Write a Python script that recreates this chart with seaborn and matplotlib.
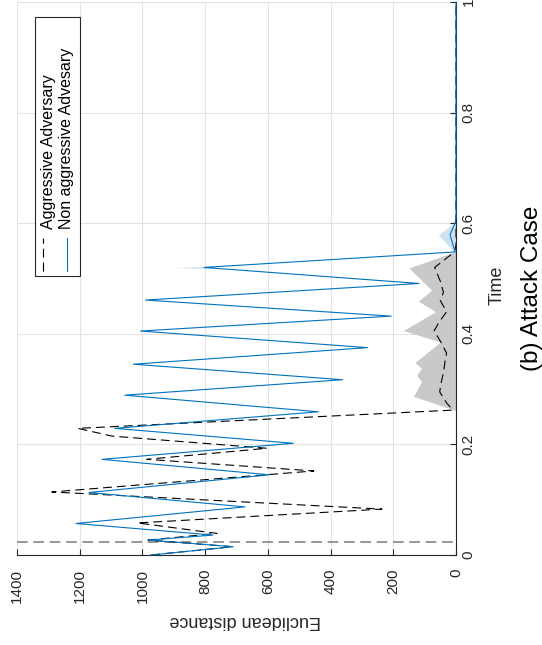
import numpy as np
import pandas as pd
import matplotlib
matplotlib.use("Agg")
import matplotlib.pyplot as plt
import seaborn as sns
from matplotlib.lines import Line2D
from matplotlib.patches import Rectangle

# ---------------- data ----------------
time_ticks = [0, 0.2, 0.4, 0.6, 0.8, 1.0]
time_tick_labels = ["0", "0.2", "0.4", "0.6", "0.8", "1"]
dist_ticks = [0, 200, 400, 600, 800, 1000, 1200, 1400]
dist_tick_labels = ["0", "200", "400", "600", "800", "1000", "1200", "1400"]

# Non aggressive adversary (blue, solid)
blue_t = [0.000, 0.015, 0.027, 0.036, 0.057, 0.087, 0.113, 0.145, 0.173, 0.202,
          0.229, 0.259, 0.289, 0.317, 0.345, 0.375, 0.405, 0.432, 0.461, 0.491,
          0.520, 0.548, 0.579, 0.600, 0.610, 1.000]
blue_d = [973, 711, 982, 775, 1212, 673, 1170, 595, 1129, 519,
          1088, 439, 1056, 362, 1029, 282, 1006, 207, 990, 118,
          804, 3, 19, 3, 0, 0]

# Aggressive adversary (black, dashed)
black_t = [0.000, 0.015, 0.027, 0.039, 0.058, 0.083, 0.114, 0.152, 0.173, 0.193,
           0.215, 0.229, 0.262, 0.275, 0.295, 0.310, 0.330, 0.350, 0.365, 0.385,
           0.405, 0.420, 0.440, 0.460, 0.475, 0.495, 0.520, 0.548, 0.560, 1.000]
black_d = [973, 711, 982, 762, 1016, 236, 1289, 453, 986, 603,
           1097, 1206, 10, 30, 52, 48, 40, 35, 30, 48,
           70, 55, 30, 50, 40, 50, 68, 5, 0, 0]

# spread band of the aggressive adversary (gray)
gray_t = [0.262, 0.287, 0.313, 0.325, 0.338, 0.348, 0.385, 0.406, 0.440, 0.459,
          0.479, 0.519, 0.548]
gray_d = [5, 136, 110, 125, 110, 131, 50, 168, 65, 120,
          78, 150, 5]

# spread band of the non aggressive adversary (light blue)
blue_band_t = [0.546, 0.579, 0.602]
blue_band_d = [3, 56, 3]
blue_peak_t = [0.5175, 0.5200, 0.5225]
blue_peak_lo = [760, 804, 760]
blue_peak_hi = [760, 907, 760]

attack_start = 0.024

series = ["Aggressive Adversary", "Non aggressive Advesary"]
caption = "(b) Attack Case"

# ---------------- style ----------------
sns.set_theme(style="white")
plt.rcParams["font.family"] = ["Liberation Sans", "DejaVu Sans"]

W, H = 542, 645
fig = plt.figure(figsize=(W / 100, H / 100), dpi=100)
L, R, T, B = 17, 456, 2, 555
ax = fig.add_axes([L / W, 1 - B / H, (R - L) / W, (B - T) / H])

blue = "#0072BD"

# bands
ax.fill_betweenx(gray_t, 0, gray_d, color="#c9c9c9", lw=0, zorder=1.5)
ax.fill_betweenx(blue_band_t, 0, blue_band_d, color=blue, alpha=0.2, lw=0, zorder=1.5)
ax.fill_betweenx(blue_peak_t, blue_peak_lo, blue_peak_hi, color=blue, alpha=0.2, lw=0, zorder=1.5)

# attack start marker
ax.axhline(attack_start, color="#7a7a7a", lw=1.1, ls=(0, (7, 3.7)), zorder=1.8)

df_black = pd.DataFrame({"d": black_d, "t": black_t})
df_blue = pd.DataFrame({"d": blue_d, "t": blue_t})
sns.lineplot(data=df_black, x="d", y="t", sort=False, estimator=None, orient="y",
             color="black", lw=0.8, linestyle=(0, (8, 4.5)), ax=ax, zorder=2.6)
sns.lineplot(data=df_blue, x="d", y="t", sort=False, estimator=None, orient="y",
             color=blue, lw=0.8, ax=ax, zorder=2.7, clip_on=False)

ax.set_xlim(1400, 0)
ax.set_ylim(0, 1)
ax.set_xticks(dist_ticks)
ax.set_xticklabels(dist_tick_labels)
ax.yaxis.tick_right()
ax.set_yticks(time_ticks)
ax.set_yticklabels(time_tick_labels)

ax.grid(True, color="#e3e3e3", lw=0.8)
ax.set_axisbelow(True)
for s in ["left", "top"]:
    ax.spines[s].set_visible(False)
for s in ["right", "bottom"]:
    ax.spines[s].set_color("#262626")
    ax.spines[s].set_linewidth(0.8)

ax.tick_params(axis="x", direction="in", length=4, width=0.8, color="#262626",
               labelrotation=90, pad=10, labelsize=11, labelcolor="#262626",
               bottom=True, top=False)
ax.tick_params(axis="y", direction="in", length=4, width=0.8, color="#262626",
               labelrotation=90, pad=4, labelsize=11, labelcolor="#262626",
               right=True, left=False, labelright=True, labelleft=False)
for lab in ax.get_yticklabels():
    lab.set_va("center")

ax.set_xlabel("Euclidean distance", rotation=180, fontsize=13, color="#262626",
              ha="center", va="center")
ax.xaxis.set_label_coords((245 - L) / (R - L), (B - 621) / (B - T))
ax.yaxis.set_label_position("right")
ax.set_ylabel("Time", rotation=90, fontsize=13, color="#262626",
              ha="center", va="center")
ax.yaxis.set_label_coords((497 - L) / (R - L), (B - 285) / (B - T))

fig.text(532 / W, 1 - 288 / H, caption, rotation=90, fontsize=17.5,
         ha="center", va="center", color="black")

# manual rotated legend
def fx(px):
    return (px - L) / (R - L)

def fy(py):
    return (B - py) / (B - T)

ax.add_patch(Rectangle((fx(35), fy(276)), fx(80) - fx(35), fy(17) - fy(276),
                       transform=ax.transAxes, facecolor="white",
                       edgecolor="#262626", lw=0.8, zorder=5))
ax.add_line(Line2D([fx(43), fx(43)], [fy(271), fy(238)], transform=ax.transAxes,
                   color="black", lw=0.8, ls=(0, (8, 4.5)), zorder=6))
ax.add_line(Line2D([fx(67), fx(67)], [fy(271), fy(238)], transform=ax.transAxes,
                   color=blue, lw=0.8, zorder=6))
ax.text(fx(49), fy(229), series[0], transform=ax.transAxes, rotation=90,
        ha="center", va="bottom", fontsize=11.5, color="black", zorder=6)
ax.text(fx(66), fy(229), series[1], transform=ax.transAxes, rotation=90,
        ha="center", va="bottom", fontsize=11.5, color="black", zorder=6)

fig.savefig("out.png", dpi=100)
